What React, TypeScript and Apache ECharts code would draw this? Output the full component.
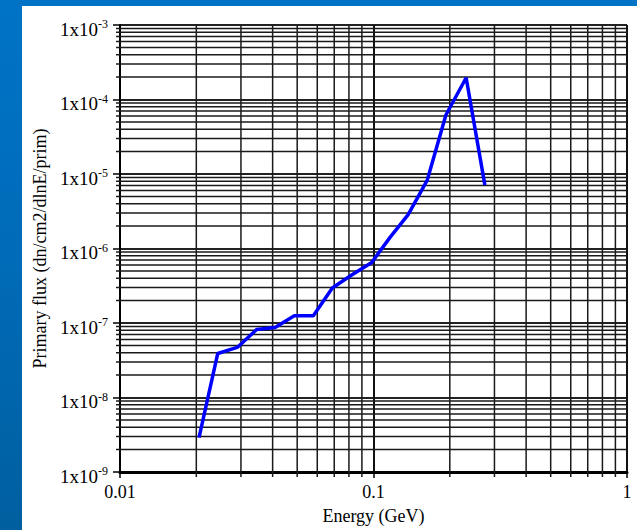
import React, { useEffect, useRef } from "react";
import * as echarts from "echarts";

// Data
const energy = [0.0205, 0.0243, 0.029, 0.0346, 0.0409, 0.0487, 0.0579, 0.0688, 0.082, 0.0984, 0.116, 0.137, 0.163, 0.193, 0.232, 0.275];
const flux = [2.9e-9, 3.9e-8, 4.7e-8, 8.2e-8, 8.7e-8, 1.25e-7, 1.25e-7, 2.95e-7, 4.4e-7, 6.5e-7, 1.4e-6, 2.85e-6, 8.3e-6, 6.2e-5, 1.96e-4, 7.1e-6];

// Axis ranges and minor grid positions
const X_MIN = 0.01;
const X_MAX = 1;
const Y_MIN = 1e-9;
const Y_MAX = 1e-3;
const X_DECADES = [0.01, 0.1];
const Y_DECADES = [1e-9, 1e-8, 1e-7, 1e-6, 1e-5, 1e-4];
const MINOR_MULTIPLIERS = [2, 3, 4, 5, 6, 7, 8, 9];

const xLabels: Record<string, string> = { "0.01": "0.01", "0.1": "0.1", "1": "1" };

const FONT = "'Liberation Serif', 'Times New Roman', serif";

export default function App() {
  const ref = useRef<HTMLDivElement>(null);

  useEffect(() => {
    document.body.style.margin = "0";
    if (!ref.current) return;
    const chart = echarts.init(ref.current, undefined, { renderer: "svg" });

    const minorX: number[][] = [];
    X_DECADES.forEach((d) => MINOR_MULTIPLIERS.forEach((m) => minorX.push([d * m, Y_MIN])));
    const minorY: number[][] = [];
    Y_DECADES.forEach((d) => MINOR_MULTIPLIERS.forEach((m) => minorY.push([X_MIN, d * m])));

    const lineData = energy.map((e, i) => [e, flux[i]]);

    chart.setOption({
      animation: false,
      backgroundColor: "#ffffff",
      grid: { left: 98, top: 19, right: 10, bottom: 53, containLabel: false },
      xAxis: {
        type: "log",
        logBase: 10,
        min: X_MIN,
        max: X_MAX,
        name: "Energy (GeV)",
        nameLocation: "middle",
        nameGap: 35,
        nameTextStyle: { fontFamily: FONT, fontSize: 18, color: "#000" },
        axisLine: { show: true, onZero: false, lineStyle: { color: "#000", width: 3 } },
        axisTick: { show: true, inside: false, length: 6, lineStyle: { color: "#000", width: 1.5 } },
        axisLabel: {
          margin: 11,
          fontFamily: FONT,
          fontSize: 18,
          color: "#000",
          formatter: (v: number) => {
            const k = String(+v.toPrecision(6));
            return xLabels[k] ?? k;
          },
        },
        splitLine: { show: true, lineStyle: { color: "#111", width: 2 } },
        minorTick: { show: false },
        minorSplitLine: { show: false },
      },
      yAxis: {
        type: "log",
        logBase: 10,
        min: Y_MIN,
        max: Y_MAX,
        name: "Primary flux (dn/cm2/dlnE/prim)",
        nameLocation: "middle",
        nameGap: 71,
        nameTextStyle: { fontFamily: FONT, fontSize: 18, color: "#000" },
        axisLine: { show: true, onZero: false, lineStyle: { color: "#000", width: 2 } },
        axisTick: { show: true, inside: false, length: 7, lineStyle: { color: "#000", width: 1.5 } },
        axisLabel: {
          margin: 12,
          color: "#000",
          formatter: (v: number) => {
            const exp = Math.round(Math.log10(v));
            return `{b|1x10}{s|${exp}}`;
          },
          rich: {
            b: { fontFamily: FONT, fontSize: 19, color: "#000", padding: [8, 0, 0, 0] },
            s: { fontFamily: FONT, fontSize: 12, color: "#000", padding: [0, 0, 2, 0] },
          },
        },
        splitLine: { show: true, lineStyle: { color: "#222", width: 2.2 } },
        minorTick: { show: false },
        minorSplitLine: { show: false },
      },
      series: [
        {
          type: "custom",
          name: "minorX",
          z: 1,
          silent: true,
          clip: false,
          data: minorX,
          renderItem: (_p: any, api: any) => {
            const v = api.value(0);
            const top = api.coord([v, Y_MAX]);
            const bot = api.coord([v, Y_MIN]);
            return {
              type: "line",
              shape: { x1: top[0], y1: top[1], x2: bot[0], y2: bot[1] + 5 },
              style: { stroke: "#1a1a1a", lineWidth: 1.5 },
            };
          },
        },
        {
          type: "custom",
          name: "minorY",
          z: 1,
          silent: true,
          clip: false,
          data: minorY,
          renderItem: (_p: any, api: any) => {
            const v = api.value(1);
            const left = api.coord([X_MIN, v]);
            const right = api.coord([X_MAX, v]);
            return {
              type: "line",
              shape: { x1: left[0] - 4, y1: left[1], x2: right[0], y2: right[1] },
              style: { stroke: "#1a1a1a", lineWidth: 1.5 },
            };
          },
        },
        {
          type: "line",
          name: "flux",
          z: 5,
          data: lineData,
          showSymbol: false,
          symbol: "none",
          lineStyle: { color: "#0000ff", width: 3.5 },
        },
      ],
    });

    return () => chart.dispose();
  }, []);

  return (
    <div
      style={{
        position: "relative",
        width: 637,
        height: 530,
        background: "linear-gradient(to bottom, #0073c6 0%, #006bb8 50%, #005f9f 100%)",
        overflow: "hidden",
      }}
    >
      <div
        ref={ref}
        style={{ position: "absolute", left: 22, top: 6, width: 615, height: 524, background: "#fff" }}
      />
    </div>
  );
}
